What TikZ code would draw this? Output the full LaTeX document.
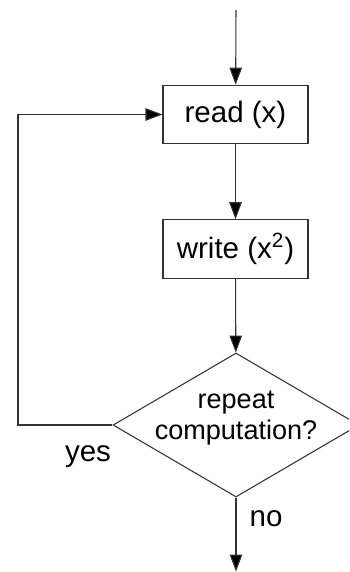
\documentclass[tikz,border=0pt]{standalone}
\usepackage{fontspec}
\setmainfont{Liberation Sans}
\usetikzlibrary{shapes.geometric, arrows.meta}
\tikzstyle{blk}=[draw=black!80, line width=0.6pt, shape=rectangle, minimum width=2.9cm, minimum height=1.17cm, inner sep=0, font=\fontsize{16.8}{20}\selectfont]
\tikzstyle{dec}=[draw=black!80, line width=0.6pt, shape=diamond, minimum width=4.92cm, minimum height=2.88cm, inner sep=0]
\tikzstyle{flow}=[draw=black!80, line width=0.6pt, -{Triangle[length=0.34cm, width=0.25cm, fill=black]}]
\tikzstyle{lbl}=[font=\fontsize{16.8}{20}\selectfont]

\begin{document}
\begin{tikzpicture}
\useasboundingbox (0,0) rectangle (6.98,-11.44);
\clip (0,0) rectangle (6.98,-11.44);
\coordinate (top) at (4.72,-0.2);
\node at (4.71,-2.29)[blk](read){read (x)};
\node at (4.71,-4.98)[blk](write){write (x\textsuperscript{2})};
\node at (4.72,-8.5)[dec](decide){};
\node at (4.72,-8.36)[align=center, font=\fontsize{15.4}{17.2}\selectfont](q){repeat\\computation?};
\coordinate (loop) at (0.36,-8.5);
\coordinate (end) at (4.72,-11.43);
\draw[flow] (top)--(read);
\draw[flow] (read)--(write);
\draw[flow] (write)--(decide);
\draw[flow] (decide.west)--(loop)|-(read.west);
\draw[flow] (decide.south)--(end);
\node at (1.76,-9.14)[lbl](yes){yes};
\node at (5.32,-10.38)[lbl](no){no};
\end{tikzpicture}
\end{document}
